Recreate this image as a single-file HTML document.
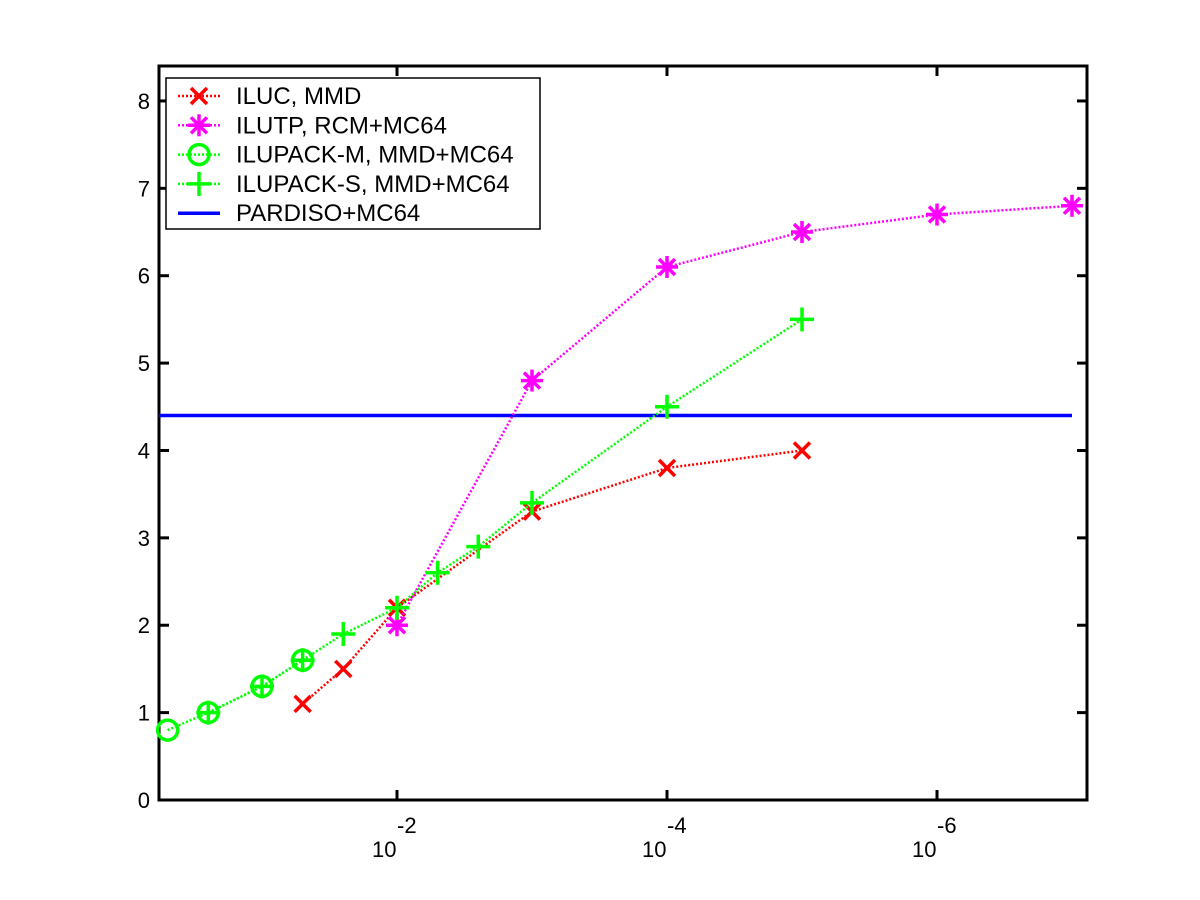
<!DOCTYPE html>
<html><head><meta charset="utf-8"><style>
body{margin:0;background:#fff}
svg{display:block;font-family:"Liberation Sans",Arial,sans-serif}
</style></head><body>
<svg id="chart" width="1200" height="900" xmlns="http://www.w3.org/2000/svg"></svg>
<script>
const yTicks=[0,1,2,3,4,5,6,7,8];
const xTickExps=[-2,-4,-6];
const seriesNames=["ILUC, MMD","ILUTP, RCM+MC64","ILUPACK-M, MMD+MC64","ILUPACK-S, MMD+MC64","PARDISO+MC64"];
const ilucX=[0.05,0.025,0.01,0.001,0.0001,0.00001];
const ilucY=[1.1,1.5,2.2,3.3,3.8,4.0];
const ilutpX=[0.01,0.001,0.0001,0.00001,0.000001,0.0000001];
const ilutpY=[2.0,4.8,6.1,6.5,6.7,6.8];
const ilupackMX=[0.5,0.25,0.1,0.05];
const ilupackMY=[0.8,1.0,1.3,1.6];
const ilupackSX=[0.25,0.1,0.05,0.025,0.01,0.005,0.0025,0.001,0.0001,0.00001];
const ilupackSY=[1.0,1.3,1.6,1.9,2.2,2.6,2.9,3.4,4.5,5.5];
const pardisoX=[0.58,0.0000001];
const pardisoY=[4.4,4.4];

const L=159,R=1087,T=66,B=800;
const yMax=8.4;
const X=v=>397+(-2-Math.log10(v))*135;
const Y=v=>B-(v/yMax)*(B-T);
const svg=document.getElementById('chart');
const NS="http://www.w3.org/2000/svg";
function mk(tag,attrs,parent){const e=document.createElementNS(NS,tag);for(const k in attrs)e.setAttribute(k,attrs[k]);(parent||svg).appendChild(e);return e;}

const frame=mk('rect',{x:L,y:T,width:R-L,height:B-T,fill:'none',stroke:'#000','stroke-width':3});



yTicks.forEach(t=>{
  const y=Y(t);
  const g=mk('g',{});
  
  
  mk('line',{x1:L,x2:L+10,y1:y,y2:y,stroke:'#000','stroke-width':3},g);
  mk('line',{x1:R,x2:R-10,y1:y,y2:y,stroke:'#000','stroke-width':3},g);
  const tx=mk('text',{x:L-9,y:y+8,'text-anchor':'end','font-size':22},g);
  tx.textContent=t;
});
xTickExps.forEach(e=>{
  const x=X(Math.pow(10,e));
  const g=mk('g',{});
  
  
  mk('line',{x1:x,x2:x,y1:B,y2:B-10,stroke:'#000','stroke-width':3},g);
  mk('line',{x1:x,x2:x,y1:T,y2:T+10,stroke:'#000','stroke-width':3},g);
  const b=mk('text',{x:x-25,y:857,'font-size':22},g);b.textContent='10';
  const s=mk('text',{x:x+0,y:833,'font-size':22},g);s.textContent=String(e);
});

function marker(g,type,x,y,color){
  const sw=3.5;
  if(type==='x'){
    mk('line',{x1:x-8,y1:y-8,x2:x+8,y2:y+8,stroke:color,'stroke-width':sw},g);
    mk('line',{x1:x-8,y1:y+8,x2:x+8,y2:y-8,stroke:color,'stroke-width':sw},g);
  }else if(type==='*'){
    mk('line',{x1:x-11,y1:y,x2:x+11,y2:y,stroke:color,'stroke-width':sw},g);
    mk('line',{x1:x,y1:y-11,x2:x,y2:y+11,stroke:color,'stroke-width':sw},g);
    mk('line',{x1:x-8,y1:y-8,x2:x+8,y2:y+8,stroke:color,'stroke-width':sw},g);
    mk('line',{x1:x-8,y1:y+8,x2:x+8,y2:y-8,stroke:color,'stroke-width':sw},g);
  }else if(type==='o'){
    mk('circle',{cx:x,cy:y,r:10,fill:'none',stroke:color,'stroke-width':sw},g);
  }else if(type==='+'){
    mk('line',{x1:x-12,y1:y,x2:x+12,y2:y,stroke:color,'stroke-width':sw},g);
    mk('line',{x1:x,y1:y-12,x2:x,y2:y+12,stroke:color,'stroke-width':sw},g);
  }
}
function series(name,xs,ys,color,type,dash,width){
  const g=mk('g',{});
  
  
  const pts=xs.map((v,i)=>X(v).toFixed(1)+','+Y(ys[i]).toFixed(1)).join(' ');
  const a={points:pts,fill:'none',stroke:color,'stroke-width':width};
  if(dash)a['stroke-dasharray']=dash;
  mk('polyline',a,g);
  if(type)xs.forEach((v,i)=>marker(g,type,X(v),Y(ys[i]),color));
}
series('series-pardiso',pardisoX,pardisoY,'#0000ff',null,null,3.5);
series('series-iluc',ilucX,ilucY,'#ff0000','x','2,2',2.5);
series('series-ilutp',ilutpX,ilutpY,'#ff00ff','*','2,2',2.5);
series('series-ilupack-m',ilupackMX,ilupackMY,'#00ff00','o','2,2',2.5);
series('series-ilupack-s',ilupackSX,ilupackSY,'#00ff00','+','2,2',2.5);

const lg=mk('g',{});


mk('rect',{x:166,y:78,width:374,height:151,fill:'#fff',stroke:'#000','stroke-width':1.5},lg);
const lcol=['#ff0000','#ff00ff','#00ff00','#00ff00','#0000ff'];
const ltype=['x','*','o','+',null];
seriesNames.forEach((n,i)=>{
  const y=96+i*29.3;
  const e=mk('g',{},lg);
  
  
  const a={x1:178,x2:220,y1:y,y2:y,stroke:lcol[i],'stroke-width':ltype[i]?2.5:3.5};
  if(ltype[i])a['stroke-dasharray']='2,2';
  mk('line',a,e);
  if(ltype[i])marker(e,ltype[i],199,y,lcol[i]);
  const t=mk('text',{x:236,y:y+8,'font-size':24},e);t.textContent=n;
});
</script>
</body></html>
